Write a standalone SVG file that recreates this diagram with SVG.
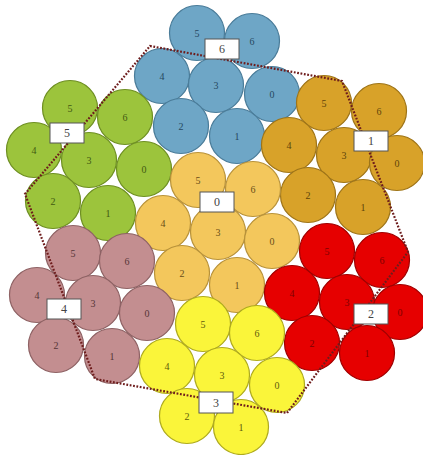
<svg xmlns="http://www.w3.org/2000/svg" width="423" height="455" viewBox="0 0 423 455">
<style>
circle{stroke-width:1.2}
.n text{font-family:"Liberation Serif",serif;font-size:10px;text-anchor:middle;dominant-baseline:central}
.c0 circle{fill:#F3C75C;stroke:#B8923A}.c0 text{fill:#6A4E18}
.c1 circle{fill:#D8A229;stroke:#9E7418}.c1 text{fill:#5E440A}
.c2 circle{fill:#E60000;stroke:#A00000}.c2 text{fill:#800000}
.c3 circle{fill:#FAF53A;stroke:#AEAA1E}.c3 text{fill:#5E5B0C}
.c4 circle{fill:#C38E90;stroke:#8E6264}.c4 text{fill:#553537}
.c5 circle{fill:#9CC43C;stroke:#6E8F22}.c5 text{fill:#425A12}
.c6 circle{fill:#6EA6C6;stroke:#4A7C99}.c6 text{fill:#26485F}
.lbl rect{fill:#fff;stroke:#555;stroke-width:1}
.lbl text{font-family:"Liberation Serif",serif;font-size:12px;fill:#444;text-anchor:middle;dominant-baseline:central}
.edge{fill:none;stroke:#6E1C1C;stroke-width:2.2;stroke-dasharray:1.8 1.6}
</style>
<g id="cluster6" class="n c6">
<g id="c6-5"><circle cx="197" cy="33" r="27.5"/><text x="197" y="33">5</text></g>
<g id="c6-6"><circle cx="252" cy="41" r="27.5"/><text x="252" y="41">6</text></g>
<g id="c6-4"><circle cx="162" cy="76" r="27.5"/><text x="162" y="76">4</text></g>
<g id="c6-3"><circle cx="216" cy="85" r="27.5"/><text x="216" y="85">3</text></g>
<g id="c6-0"><circle cx="272" cy="94" r="27.5"/><text x="272" y="94">0</text></g>
<g id="c6-2"><circle cx="181" cy="126" r="27.5"/><text x="181" y="126">2</text></g>
<g id="c6-1"><circle cx="237" cy="136" r="27.5"/><text x="237" y="136">1</text></g>
</g>
<g id="cluster5" class="n c5">
<g id="c5-5"><circle cx="70" cy="108" r="27.5"/><text x="70" y="108">5</text></g>
<g id="c5-6"><circle cx="125" cy="117" r="27.5"/><text x="125" y="117">6</text></g>
<g id="c5-4"><circle cx="34" cy="150" r="27.5"/><text x="34" y="150">4</text></g>
<g id="c5-3"><circle cx="89" cy="160" r="27.5"/><text x="89" y="160">3</text></g>
<g id="c5-0"><circle cx="144" cy="169" r="27.5"/><text x="144" y="169">0</text></g>
<g id="c5-2"><circle cx="53" cy="201" r="27.5"/><text x="53" y="201">2</text></g>
<g id="c5-1"><circle cx="108" cy="213" r="27.5"/><text x="108" y="213">1</text></g>
</g>
<g id="cluster1" class="n c1">
<g id="c1-5"><circle cx="324" cy="103" r="27.5"/><text x="324" y="103">5</text></g>
<g id="c1-6"><circle cx="379" cy="111" r="27.5"/><text x="379" y="111">6</text></g>
<g id="c1-4"><circle cx="289" cy="145" r="27.5"/><text x="289" y="145">4</text></g>
<g id="c1-3"><circle cx="344" cy="155" r="27.5"/><text x="344" y="155">3</text></g>
<g id="c1-0"><circle cx="397" cy="163" r="27.5"/><text x="397" y="163">0</text></g>
<g id="c1-2"><circle cx="308" cy="195" r="27.5"/><text x="308" y="195">2</text></g>
<g id="c1-1"><circle cx="363" cy="207" r="27.5"/><text x="363" y="207">1</text></g>
</g>
<g id="cluster0" class="n c0">
<g id="c0-5"><circle cx="198" cy="180" r="27.5"/><text x="198" y="180">5</text></g>
<g id="c0-6"><circle cx="253" cy="189" r="27.5"/><text x="253" y="189">6</text></g>
<g id="c0-4"><circle cx="163" cy="223" r="27.5"/><text x="163" y="223">4</text></g>
<g id="c0-3"><circle cx="218" cy="232" r="27.5"/><text x="218" y="232">3</text></g>
<g id="c0-0"><circle cx="272" cy="241" r="27.5"/><text x="272" y="241">0</text></g>
<g id="c0-2"><circle cx="182" cy="273" r="27.5"/><text x="182" y="273">2</text></g>
<g id="c0-1"><circle cx="237" cy="285" r="27.5"/><text x="237" y="285">1</text></g>
</g>
<g id="cluster4" class="n c4">
<g id="c4-5"><circle cx="73" cy="253" r="27.5"/><text x="73" y="253">5</text></g>
<g id="c4-6"><circle cx="127" cy="261" r="27.5"/><text x="127" y="261">6</text></g>
<g id="c4-4"><circle cx="37" cy="295" r="27.5"/><text x="37" y="295">4</text></g>
<g id="c4-3"><circle cx="93" cy="303" r="27.5"/><text x="93" y="303">3</text></g>
<g id="c4-0"><circle cx="147" cy="313" r="27.5"/><text x="147" y="313">0</text></g>
<g id="c4-2"><circle cx="56" cy="345" r="27.5"/><text x="56" y="345">2</text></g>
<g id="c4-1"><circle cx="112" cy="356" r="27.5"/><text x="112" y="356">1</text></g>
</g>
<g id="cluster2" class="n c2">
<g id="c2-5"><circle cx="327" cy="251" r="27.5"/><text x="327" y="251">5</text></g>
<g id="c2-6"><circle cx="382" cy="260" r="27.5"/><text x="382" y="260">6</text></g>
<g id="c2-4"><circle cx="292" cy="293" r="27.5"/><text x="292" y="293">4</text></g>
<g id="c2-3"><circle cx="347" cy="302" r="27.5"/><text x="347" y="302">3</text></g>
<g id="c2-0"><circle cx="400" cy="312" r="27.5"/><text x="400" y="312">0</text></g>
<g id="c2-2"><circle cx="312" cy="343" r="27.5"/><text x="312" y="343">2</text></g>
<g id="c2-1"><circle cx="367" cy="353" r="27.5"/><text x="367" y="353">1</text></g>
</g>
<g id="cluster3" class="n c3">
<g id="c3-5"><circle cx="203" cy="324" r="27.5"/><text x="203" y="324">5</text></g>
<g id="c3-6"><circle cx="257" cy="333" r="27.5"/><text x="257" y="333">6</text></g>
<g id="c3-4"><circle cx="167" cy="366" r="27.5"/><text x="167" y="366">4</text></g>
<g id="c3-3"><circle cx="222" cy="375" r="27.5"/><text x="222" y="375">3</text></g>
<g id="c3-0"><circle cx="277" cy="385" r="27.5"/><text x="277" y="385">0</text></g>
<g id="c3-2"><circle cx="187" cy="416" r="27.5"/><text x="187" y="416">2</text></g>
<g id="c3-1"><circle cx="241" cy="427" r="27.5"/><text x="241" y="427">1</text></g>
</g>
<g id="connectors">
<polygon class="edge" points="150,46 342,81 408,252 287,413 95,379 25,194"/>
</g>
<g id="labels">
<g id="label6" class="lbl"><rect x="205" y="39" width="34" height="20"/><text x="222" y="49">6</text></g>
<g id="label5" class="lbl"><rect x="50" y="123" width="34" height="20"/><text x="67" y="133">5</text></g>
<g id="label1" class="lbl"><rect x="354" y="131" width="34" height="20"/><text x="371" y="141">1</text></g>
<g id="label0" class="lbl"><rect x="200" y="192" width="34" height="20"/><text x="217" y="202">0</text></g>
<g id="label4" class="lbl"><rect x="47" y="299" width="34" height="20"/><text x="64" y="309">4</text></g>
<g id="label2" class="lbl"><rect x="354" y="304" width="34" height="20"/><text x="371" y="314">2</text></g>
<g id="label3" class="lbl"><rect x="199" y="392" width="34" height="21"/><text x="216" y="402.5">3</text></g>
</g>
</svg>
